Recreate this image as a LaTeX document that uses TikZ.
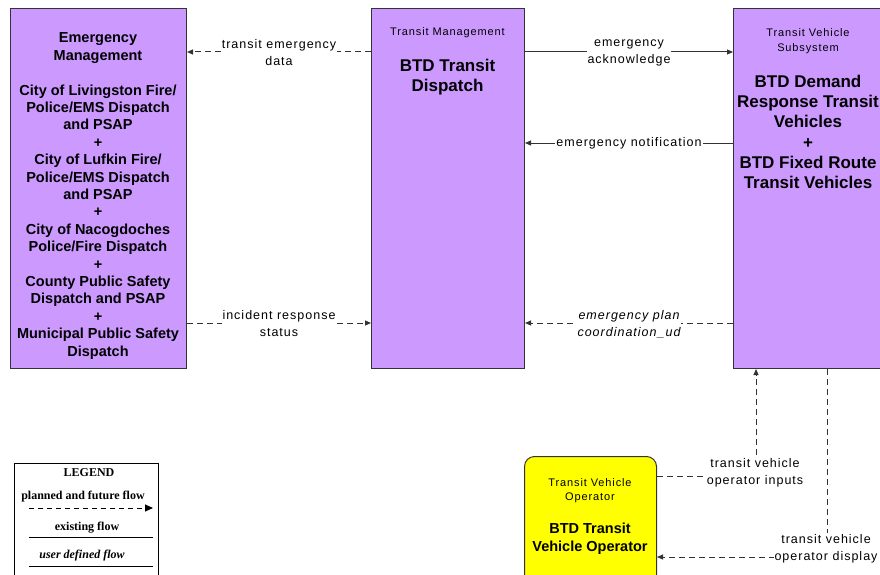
\documentclass[tikz,border=0pt]{standalone}
\usepackage{fontspec}
\setmainfont{Liberation Sans}
\newfontfamily\lblfont{Liberation Sans}[LetterSpace=8]
\newfontfamily\legfont{Liberation Serif}
\usetikzlibrary{arrows.meta}
\definecolor{boxpurple}{HTML}{CC99FF}
\definecolor{opyellow}{HTML}{FFFF00}
\definecolor{linecol}{HTML}{333333}
\tikzset{
  box/.style={draw=linecol, line width=1pt, fill=boxpurple, inner sep=0pt, anchor=north west},
  hdr/.style={align=center, font=\lblfont\fontsize{11}{15}\selectfont},
  lbl/.style={fill=white, inner sep=1pt, align=center, font=\lblfont\fontsize{12.5}{17}\selectfont},
  flowd/.style={draw=linecol, line width=1pt, dash pattern=on 6pt off 4pt, -{Triangle[length=6pt,width=5pt]}},
  flows/.style={draw=linecol, line width=1pt, -{Triangle[length=6pt,width=5pt]}},
  legline/.style={draw=black, line width=1pt},
  legtext/.style={font=\legfont\bfseries\fontsize{12}{13}\selectfont}
}
\begin{document}
\begin{tikzpicture}[x=1pt,y=-1pt]
\useasboundingbox (0,0) rectangle (880,575);
\fill[white] (0,0) rectangle (880,575);
% level coordinates
\coordinate (y52) at (0,52);
\coordinate (y143) at (0,143);
\coordinate (y323) at (0,323);
\coordinate (y476) at (0,476);
\coordinate (y557) at (0,557);
\coordinate (x756) at (756,0);
\coordinate (x827) at (827,0);
% boxes
\node[box, minimum width=176pt, minimum height=360pt] (em) at (10,8) {};
\node[box, minimum width=153pt, minimum height=360pt] (tm) at (371,8) {};
\node[box, minimum width=160pt, minimum height=360pt] (tv) at (733,8) {};
\node[box, fill=opyellow, rounded corners=10pt, minimum width=132pt, minimum height=140pt] (op) at (524,456) {};
\node[box, fill=white, draw=black, line width=1pt, minimum width=144pt, minimum height=130pt] (leg) at (14,463) {};
% box texts
\node[align=center, font=\bfseries\fontsize{14.5}{17.4}\selectfont] (emtxt) at (98,196)
 {Emergency\\Management\\[17.4pt]City of Livingston Fire/\\Police/EMS Dispatch\\and PSAP\\+\\City of Lufkin Fire/\\Police/EMS Dispatch\\and PSAP\\+\\City of Nacogdoches\\Police/Fire Dispatch\\+\\County Public Safety\\Dispatch and PSAP\\+\\Municipal Public Safety\\Dispatch};
\node[hdr] (tmhdr) at (447.5,33) {Transit Management};
\node[align=center, font=\bfseries\fontsize{17}{20}\selectfont] (tmtxt) at (447.5,77) {BTD Transit\\Dispatch};
\node[hdr] (tvhdr) at (808,41) {Transit Vehicle\\Subsystem};
\node[align=center, font=\bfseries\fontsize{17}{20.2}\selectfont] (tvtxt) at (808,132) {BTD Demand\\Response Transit\\Vehicles\\+\\BTD Fixed Route\\Transit Vehicles};
\node[hdr, font=\lblfont\fontsize{11}{14}\selectfont] (ophdr) at (590,490.5) {Transit Vehicle\\Operator};
\node[align=center, font=\bfseries\fontsize{14.5}{18}\selectfont] (optxt) at (590,539) {BTD Transit\\Vehicle Operator};
% flows
\draw[flowd] (tm.west |- y52) -- (em.east |- y52) node[lbl, midway, yshift=-1pt] (l1) {transit emergency\\data};
\draw[flowd] (em.east |- y323) -- (tm.west |- y323) node[lbl, midway, yshift=-1pt] (l2) {incident response\\status};
\draw[flows] (tm.east |- y52) -- (tv.west |- y52) node[lbl, midway, yshift=-1pt] (l3) {emergency\\acknowledge};
\draw[flows] (tv.west |- y143) -- (tm.east |- y143) node[lbl, midway] (l4) {emergency notification};
\draw[flowd] (tv.west |- y323) -- (tm.east |- y323) node[lbl, midway, yshift=-1pt, font=\lblfont\itshape\fontsize{12.5}{17}\selectfont] (l5) {emergency plan\\coordination\_ud};
\draw[flowd] (op.east |- y476) -| (tv.south -| x756);
\node[lbl] (l6) at (755,472.5) {transit vehicle\\operator inputs};
\draw[flowd] (tv.south -| x827) |- (op.east |- y557);
\node[lbl] (l7) at (826,548.5) {transit vehicle\\operator display};
% legend
\node[legtext] (legt) at (89,473) {LEGEND};
\node[legtext] (leg1) at (83,497) {planned and future flow};
\coordinate (la1) at (29,508);
\coordinate (lb1) at (153,508);
\draw[legline, dash pattern=on 5pt off 4pt, -{Triangle[length=8pt,width=7pt]}] (la1) -- (lb1);
\node[legtext] (leg2) at (87,528) {existing flow};
\coordinate (la2) at (29,537);
\coordinate (lb2) at (153,537);
\draw[legline] (la2) -- (lb2);
\node[legtext, font=\legfont\bfseries\itshape\fontsize{12}{13}\selectfont] (leg3) at (82,556) {user defined flow};
\coordinate (la3) at (29,566);
\coordinate (lb3) at (153,566);
\draw[legline] (la3) -- (lb3);
\end{tikzpicture}
\end{document}
